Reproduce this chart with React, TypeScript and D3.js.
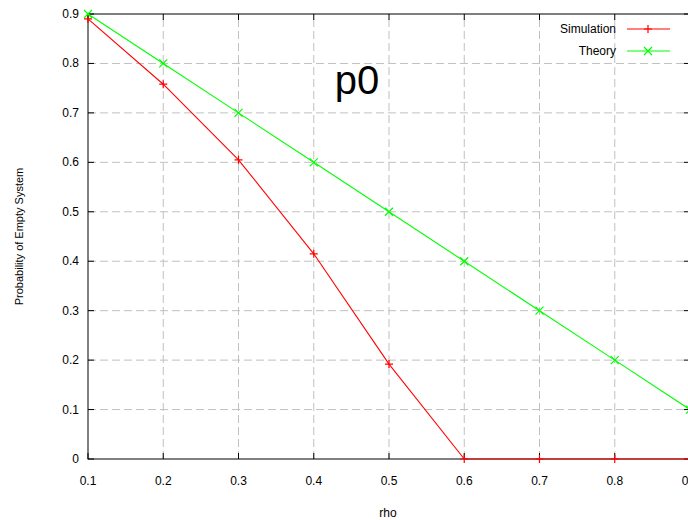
import React, { useEffect, useRef } from 'react';
import * as d3 from 'd3';

const rho = [0.1, 0.2, 0.3, 0.4, 0.5, 0.6, 0.7, 0.8, 0.9];
const simulation = [0.89, 0.758, 0.605, 0.415, 0.192, 0, 0, 0, 0];
const theory = [0.9, 0.8, 0.7, 0.6, 0.5, 0.4, 0.3, 0.2, 0.1];
const yTicks = [0, 0.1, 0.2, 0.3, 0.4, 0.5, 0.6, 0.7, 0.8, 0.9];

const width = 688;
const height = 520;
const margin = { top: 14, right: -2, bottom: 61, left: 88 };
const font = '"Liberation Sans", Arial, sans-serif';

export default function App() {
  const svgRef = useRef<SVGSVGElement>(null);

  useEffect(() => {
    const svg = d3.select(svgRef.current);
    svg.selectAll('*').remove();

    const x = d3.scaleLinear().domain([0.1, 0.9]).range([margin.left, width - margin.right]);
    const y = d3.scaleLinear().domain([0, 0.9]).range([height - margin.bottom, margin.top]);
    const x0 = x.range()[0], x1 = x.range()[1];
    const y0 = y.range()[0], y1 = y.range()[1];

    // grid
    const grid = svg.append('g').attr('stroke', '#c0c0c0').attr('stroke-dasharray', '8 4').attr('stroke-width', 1);
    rho.slice(1, -1).forEach((v) => {
      grid.append('line').attr('x1', x(v)).attr('x2', x(v)).attr('y1', y0).attr('y2', y1);
    });
    yTicks.slice(1, -1).forEach((v) => {
      grid.append('line').attr('x1', x0).attr('x2', x1).attr('y1', y(v)).attr('y2', y(v));
    });

    // border
    svg.append('rect')
      .attr('x', x0).attr('y', y1).attr('width', x1 - x0).attr('height', y0 - y1)
      .attr('fill', 'none').attr('stroke', '#000').attr('stroke-width', 1);

    // ticks (inward, mirrored)
    const ticks = svg.append('g').attr('stroke', '#000');
    rho.forEach((v) => {
      ticks.append('line').attr('x1', x(v)).attr('x2', x(v)).attr('y1', y0).attr('y2', y0 - 6);
      ticks.append('line').attr('x1', x(v)).attr('x2', x(v)).attr('y1', y1).attr('y2', y1 + 6);
    });
    yTicks.forEach((v) => {
      ticks.append('line').attr('x1', x0).attr('x2', x0 + 6).attr('y1', y(v)).attr('y2', y(v));
      ticks.append('line').attr('x1', x1).attr('x2', x1 - 6).attr('y1', y(v)).attr('y2', y(v));
    });

    // tick labels
    const labels = svg.append('g').attr('font-family', font).attr('font-size', 12).attr('fill', '#000');
    rho.forEach((v) => {
      labels.append('text').attr('x', x(v)).attr('y', y0 + 26).attr('text-anchor', 'middle').text(d3.format('.1f')(v));
    });
    yTicks.forEach((v) => {
      labels.append('text').attr('x', x0 - 9).attr('y', y(v) + 4).attr('text-anchor', 'end').text(v === 0 ? '0' : d3.format('.1f')(v));
    });

    // axis titles
    svg.append('text').attr('x', (x0 + x1) / 2 - 1).attr('y', 517).attr('text-anchor', 'middle')
      .attr('font-family', font).attr('font-size', 12).text('rho');
    svg.append('text').attr('transform', `translate(23,${(y0 + y1) / 2}) rotate(-90)`).attr('text-anchor', 'middle')
      .attr('font-family', font).attr('font-size', 11).text('Probability of Empty System');

    // big label
    svg.append('text').attr('x', 357).attr('y', 94).attr('text-anchor', 'middle')
      .attr('font-family', font).attr('font-size', 40).text('p0');

    type G = d3.Selection<SVGGElement, unknown, null, undefined>;
    const plus = (g: G, cx: number, cy: number, color: string) => {
      g.append('path').attr('d', `M${cx - 4},${cy}H${cx + 4}M${cx},${cy - 4}V${cy + 4}`)
        .attr('fill', 'none').attr('stroke', color).attr('stroke-width', 1.2);
    };
    const cross = (g: G, cx: number, cy: number, color: string) => {
      g.append('path').attr('d', `M${cx - 4},${cy - 4}L${cx + 4},${cy + 4}M${cx - 4},${cy + 4}L${cx + 4},${cy - 4}`)
        .attr('fill', 'none').attr('stroke', color).attr('stroke-width', 1.2);
    };

    const series = [
      { name: 'Simulation', values: simulation, color: '#ff0000', marker: plus },
      { name: 'Theory', values: theory, color: '#00ff00', marker: cross },
    ];

    series.forEach((s, k) => {
      const g = svg.append('g');
      // draw each segment separately
      s.values.slice(1).forEach((v, i) => {
        g.append('line')
          .attr('x1', x(rho[i])).attr('y1', y(s.values[i]))
          .attr('x2', x(rho[i + 1])).attr('y2', y(v))
          .attr('stroke', s.color).attr('stroke-width', 1.1);
      });
      s.values.forEach((v, i) => s.marker(g, x(rho[i]), y(v), s.color));

      // legend entry
      const ly = 29 + k * 22;
      svg.append('text').attr('x', 616).attr('y', ly + 4).attr('text-anchor', 'end')
        .attr('font-family', font).attr('font-size', 12).text(s.name);
      g.append('line').attr('x1', 627).attr('x2', 670).attr('y1', ly).attr('y2', ly).attr('stroke', s.color);
      s.marker(g, 648, ly, s.color);
    });
  }, []);

  return (
    <svg ref={svgRef} width={width} height={height}
      style={{ position: 'absolute', left: 0, top: 0, background: '#fff' }} />
  );
}
